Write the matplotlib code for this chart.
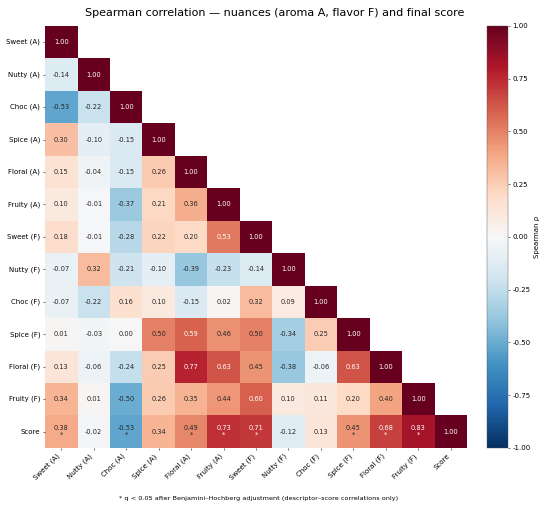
import numpy as np
import matplotlib
matplotlib.use("Agg")
from matplotlib import pyplot as plt
import seaborn as sns

labels = ["Sweet (A)", "Nutty (A)", "Choc (A)", "Spice (A)", "Floral (A)", "Fruity (A)",
          "Sweet (F)", "Nutty (F)", "Choc (F)", "Spice (F)", "Floral (F)", "Fruity (F)", "Score"]

# lower triangle rows (below the diagonal)
row_nutty_a = [-0.14]
row_choc_a = [-0.53, -0.22]
row_spice_a = [0.30, -0.10, -0.15]
row_floral_a = [0.15, -0.04, -0.15, 0.26]
row_fruity_a = [0.10, -0.01, -0.37, 0.21, 0.36]
row_sweet_f = [0.18, -0.01, -0.28, 0.22, 0.20, 0.53]
row_nutty_f = [-0.07, 0.32, -0.21, -0.10, -0.39, -0.23, -0.14]
row_choc_f = [-0.07, -0.22, 0.16, 0.10, -0.15, 0.02, 0.32, 0.09]
row_spice_f = [0.01, -0.03, 0.00, 0.50, 0.59, 0.46, 0.50, -0.34, 0.25]
row_floral_f = [0.13, -0.06, -0.24, 0.25, 0.77, 0.63, 0.45, -0.38, -0.06, 0.63]
row_fruity_f = [0.34, 0.01, -0.50, 0.26, 0.35, 0.44, 0.60, 0.10, 0.11, 0.20, 0.40]
row_score = [0.38, -0.02, -0.53, 0.34, 0.49, 0.73, 0.71, -0.12, 0.13, 0.45, 0.68, 0.83]

# significant descriptor-score correlations (q < 0.05)
score_sig = [True, False, True, False, True, True, True, False, False, True, True, True]

rows = [[], row_nutty_a, row_choc_a, row_spice_a, row_floral_a, row_fruity_a, row_sweet_f,
        row_nutty_f, row_choc_f, row_spice_f, row_floral_f, row_fruity_f, row_score]

cbar_ticks = [-1.0, -0.75, -0.5, -0.25, 0.0, 0.25, 0.5, 0.75, 1.0]


def main():
    n = len(labels)
    corr = np.eye(n)
    for i, r in enumerate(rows):
        for j, v in enumerate(r):
            corr[i, j] = v
            corr[j, i] = v

    mask = np.triu(np.ones((n, n), dtype=bool), k=1)

    fig = plt.figure(figsize=(11, 10.18), dpi=50)
    ax = fig.add_axes([0.082, 0.12, 0.767, 0.829])
    cax = fig.add_axes([0.885, 0.12, 0.038, 0.829])

    sns.heatmap(corr, mask=mask, cmap="RdBu_r", vmin=-1, vmax=1,
                square=True, ax=ax, cbar_ax=cax,
                xticklabels=labels, yticklabels=labels,
                cbar_kws={"label": "Spearman ρ"})
    cbar = ax.collections[0].colorbar
    cbar.outline.set_linewidth(0.6)
    cbar.outline.set_edgecolor("#555555")

    # annotations: white text on the strong positive cells
    for i in range(n):
        for j in range(i + 1):
            v = corr[i, j]
            txt = f"{v:.2f}"
            if i == n - 1 and j < n - 1 and score_sig[j]:
                txt += "\n*"
            col = "white" if v > 0.5 else "#262626"
            ax.text(j + 0.5, i + 0.5, txt, ha="center", va="center",
                    fontsize=9.5, color=col)

    ax.set_xticklabels(labels, rotation=45, ha="right")
    ax.set_yticklabels(labels, rotation=0)
    cax.set_yticks(cbar_ticks)
    cax.set_yticklabels([f"{t:.2f}" for t in cbar_ticks])

    fig.suptitle("Spearman correlation — nuances (aroma A, flavor F) and final score",
                 fontsize=16, y=0.985)
    fig.text(0.47, 0.018,
             "* q < 0.05 after Benjamini–Hochberg adjustment (descriptor–score correlations only)",
             ha="center", fontsize=9.3)

    fig.savefig("out.png", dpi=50)


if __name__ == '__main__':
    main()
